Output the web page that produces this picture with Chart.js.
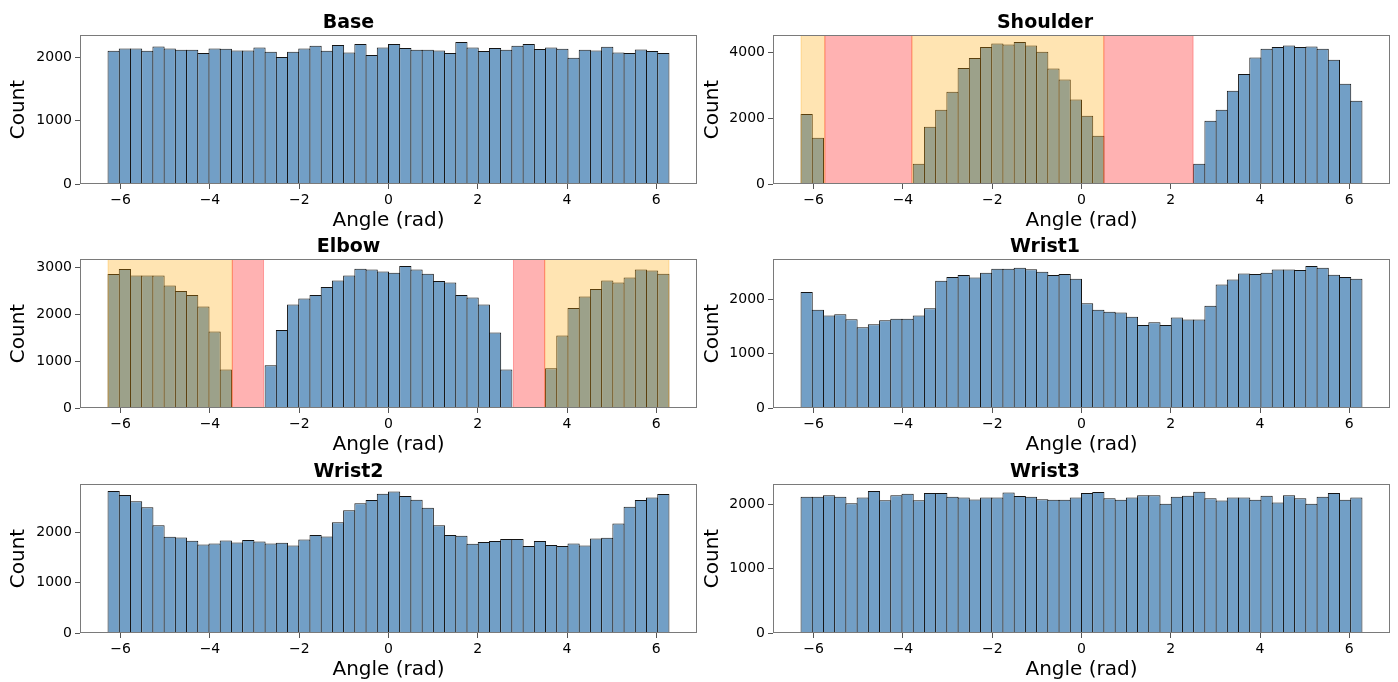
<!DOCTYPE html>
<html>
<head>
<meta charset="utf-8">
<script src="https://cdn.jsdelivr.net/npm/chart.js@4.4.1/dist/chart.umd.min.js"></script>
<style>
  html, body { margin: 0; padding: 0; background: #ffffff; }
  #grid { position: relative; width: 1398px; height: 682px; overflow: hidden; }
  .panel { position: absolute; }
</style>
</head>
<body>
<div id="grid"></div>
<script>
// Histogram bins: 50 equal bins spanning one full turn either side of zero
const binCount = 50;
const angleMin = -2 * Math.PI;
const angleMax = 2 * Math.PI;
const xTickValues = [-6, -4, -2, 0, 2, 4, 6];

// Counts per bin for each joint
const baseCounts = [2100, 2137, 2137, 2100, 2168, 2137, 2116, 2116, 2063, 2137,
                    2131, 2105, 2105, 2152, 2084, 2000, 2084, 2137, 2179, 2100,
                    2189, 2074, 2205, 2032, 2152, 2205, 2142, 2116, 2116, 2105,
                    2063, 2236, 2152, 2095, 2142, 2116, 2179, 2205, 2126, 2152,
                    2131, 1990, 2116, 2105, 2163, 2074, 2063, 2121, 2095, 2063];
const shoulderCounts = [2127, 1408, 0, 0, 0, 0, 0, 0, 0, 0,
                        618, 1742, 2259, 2806, 3525, 3829, 4163, 4275, 4244, 4315,
                        4214, 4022, 3515, 3181, 2573, 2077, 1469, 0, 0, 0,
                        0, 0, 0, 0, 0, 618, 1925, 2259, 2836, 3343,
                        3849, 4113, 4163, 4214, 4163, 4184, 4113, 3778, 3049, 2532];
const elbowCounts = [2857, 2964, 2829, 2829, 2829, 2615, 2494, 2409, 2168, 1635,
                     824, 0, 0, 0, 910, 1663, 2210, 2338, 2409, 2580,
                     2722, 2829, 2971, 2957, 2914, 2885, 3028, 2957, 2864, 2708,
                     2679, 2409, 2360, 2210, 1613, 824, 0, 0, 0, 846,
                     1549, 2132, 2381, 2537, 2722, 2679, 2786, 2957, 2935, 2864];
const wrist1Counts = [2141, 1816, 1706, 1730, 1638, 1491, 1546, 1620, 1650, 1650,
                      1706, 1840, 2350, 2417, 2454, 2411, 2497, 2571, 2571, 2589,
                      2564, 2515, 2454, 2472, 2387, 1933, 1816, 1779, 1761, 1687,
                      1534, 1583, 1534, 1669, 1632, 1632, 1890, 2282, 2374, 2485,
                      2472, 2497, 2558, 2558, 2546, 2620, 2589, 2460, 2417, 2387];
const wrist2Counts = [2829, 2749, 2629, 2508, 2147, 1920, 1906, 1839, 1766, 1786,
                      1846, 1806, 1853, 1826, 1786, 1799, 1746, 1866, 1953, 1926,
                      2207, 2448, 2589, 2649, 2776, 2823, 2729, 2656, 2495, 2147,
                      1953, 1940, 1779, 1813, 1833, 1873, 1873, 1732, 1833, 1753,
                      1732, 1786, 1746, 1886, 1900, 2181, 2515, 2649, 2702, 2769];
const wrist3Counts = [2120, 2120, 2146, 2120, 2021, 2110, 2209, 2068, 2146, 2167,
                      2068, 2178, 2178, 2120, 2110, 2078, 2110, 2110, 2188, 2131,
                      2120, 2084, 2073, 2073, 2110, 2178, 2193, 2099, 2073, 2110,
                      2146, 2146, 2011, 2120, 2136, 2198, 2099, 2063, 2110, 2110,
                      2073, 2136, 2031, 2146, 2099, 2011, 2120, 2178, 2073, 2110];

// Y tick values per joint
const baseYTicks = [0, 1000, 2000];
const shoulderYTicks = [0, 2000, 4000];
const elbowYTicks = [0, 1000, 2000, 3000];
const wrist1YTicks = [0, 1000, 2000];
const wrist2YTicks = [0, 1000, 2000];
const wrist3YTicks = [0, 1000, 2000];

// Shaded angle ranges (radians): warning zones and forbidden zones
const shoulderWarnZones = [[-2 * Math.PI, -5.75], [-3.8, 0.5]];
const shoulderBlockZones = [[-5.75, -3.8], [0.5, 2.5]];
const elbowWarnZones = [[-2 * Math.PI, -3.5], [3.5, 2 * Math.PI]];
const elbowBlockZones = [[-3.5, -2.8], [2.8, 3.5]];

const joints = [
  { name: 'Base',     counts: baseCounts,     yTicks: baseYTicks,     warn: [], block: [] },
  { name: 'Shoulder', counts: shoulderCounts, yTicks: shoulderYTicks, warn: shoulderWarnZones, block: shoulderBlockZones },
  { name: 'Elbow',    counts: elbowCounts,    yTicks: elbowYTicks,    warn: elbowWarnZones,    block: elbowBlockZones },
  { name: 'Wrist1',   counts: wrist1Counts,   yTicks: wrist1YTicks,   warn: [], block: [] },
  { name: 'Wrist2',   counts: wrist2Counts,   yTicks: wrist2YTicks,   warn: [], block: [] },
  { name: 'Wrist3',   counts: wrist3Counts,   yTicks: wrist3YTicks,   warn: [], block: [] }
];

// Panel geometry
const columns = [
  { left: 0,   width: 700, axisW: 80, padRight: 3, labelPad: 6.5 },
  { left: 700, width: 698, axisW: 73, padRight: 8, labelPad: 1 }
];
const rowTops = [0, 224, 449];
const panelH = 233;
const xAxisH = 49;

const WARN_COLOR = 'rgba(255,165,0,0.3)';
const BLOCK_COLOR = 'rgba(255,0,0,0.3)';
const BAR_FILL = 'rgb(114,159,198)';
const BAR_EDGE = '#141414';
const FRAME_COLOR = '#7a7a7a';
const TICK_COLOR = '#555555';

Chart.defaults.font.family = "'DejaVu Sans', sans-serif";
Chart.defaults.color = '#000000';

const binWidth = (angleMax - angleMin) / binCount;
const binCenters = [];
for (let i = 0; i < binCount; i++) binCenters.push(angleMin + (i + 0.5) * binWidth);
const xPad = 0.05 * (angleMax - angleMin);
const xMin = angleMin - xPad;
const xMax = angleMax + xPad;

const fmtTick = v => (v < 0 ? '\u2212' + Math.abs(v) : String(v));

// Shaded zones drawn over the bars, then the axes frame on top
const zonesAndFrame = {
  id: 'zonesAndFrame',
  afterDatasetsDraw(chart, args, opts) {
    const { ctx, chartArea: a, scales: { x } } = chart;
    ctx.save();
    ctx.beginPath();
    ctx.rect(a.left, a.top, a.right - a.left, a.bottom - a.top);
    ctx.clip();
    (opts.zones || []).forEach(z => {
      const x0 = x.getPixelForValue(z.from);
      const x1 = x.getPixelForValue(z.to);
      ctx.fillStyle = z.color;
      ctx.fillRect(x0, a.top, x1 - x0, a.bottom - a.top);
      ctx.strokeStyle = z.color;
      ctx.lineWidth = 1;
      ctx.strokeRect(x0, a.top, x1 - x0, a.bottom - a.top);
    });
    ctx.restore();
    ctx.save();
    ctx.strokeStyle = FRAME_COLOR;
    ctx.lineWidth = 1;
    const l = Math.round(a.left) + 0.5, t = Math.round(a.top) + 0.5;
    const r = Math.round(a.right) - 0.5, b = Math.round(a.bottom) - 0.5;
    ctx.strokeRect(l, t, r - l, b - t);
    ctx.restore();
  }
};

const grid = document.getElementById('grid');

joints.forEach((j, idx) => {
  const col = columns[idx % 2];
  const top = rowTops[Math.floor(idx / 2)];
  const holder = document.createElement('div');
  holder.className = 'panel';
  holder.style.left = col.left + 'px';
  holder.style.top = top + 'px';
  holder.style.width = col.width + 'px';
  holder.style.height = panelH + 'px';
  const canvas = document.createElement('canvas');
  canvas.width = col.width;
  canvas.height = panelH;
  holder.appendChild(canvas);
  grid.appendChild(holder);

  const areaW = col.width - col.axisW - col.padRight;
  const barPx = binWidth * areaW / (xMax - xMin) + 1;

  const zones = [];
  j.warn.forEach(z => zones.push({ from: z[0], to: z[1], color: WARN_COLOR }));
  j.block.forEach(z => zones.push({ from: z[0], to: z[1], color: BLOCK_COLOR }));

  new Chart(canvas, {
    type: 'bar',
    data: {
      datasets: [{
        label: j.name,
        data: binCenters.map((c, i) => ({ x: c, y: j.counts[i] })),
        backgroundColor: BAR_FILL,
        borderColor: BAR_EDGE,
        borderWidth: { top: 1, left: 1, right: 1, bottom: 0 },
        borderSkipped: false,
        barThickness: barPx,
        inflateAmount: 0,
        grouped: false
      }]
    },
    options: {
      responsive: false,
      animation: false,
      devicePixelRatio: 1,
      layout: { padding: { left: 0, right: col.padRight, top: 0, bottom: 0 } },
      plugins: {
        legend: { display: false },
        tooltip: { enabled: false },
        title: {
          display: true,
          text: j.name,
          color: '#000000',
          font: { size: 19, weight: 'bold', lineHeight: 1.2 },
          padding: { top: 11.8, bottom: 0.4 }
        },
        zonesAndFrame: { zones }
      },
      scales: {
        x: {
          type: 'linear',
          min: xMin,
          max: xMax,
          offset: false,
          afterFit: s => { s.height = xAxisH; },
          afterBuildTicks: s => { s.ticks = xTickValues.map(v => ({ value: v })); },
          ticks: {
            autoSkip: false,
            maxRotation: 0,
            padding: 3,
            color: '#000000',
            font: { size: 14 },
            callback: v => fmtTick(v)
          },
          grid: {
            display: true,
            offset: false,
            drawOnChartArea: false,
            drawTicks: true,
            tickLength: 5,
            tickColor: TICK_COLOR,
            tickWidth: 1
          },
          border: { display: false },
          title: {
            display: true,
            text: 'Angle (rad)',
            color: '#000000',
            font: { size: 20, lineHeight: 1.2 },
            padding: { top: 0, bottom: 0 }
          }
        },
        y: {
          type: 'linear',
          min: 0,
          max: Math.max(...j.counts) * 1.05,
          afterFit: s => { s.width = col.axisW; },
          afterBuildTicks: s => { s.ticks = j.yTicks.map(v => ({ value: v })); },
          ticks: {
            autoSkip: false,
            padding: 3,
            color: '#000000',
            font: { size: 14 },
            callback: v => fmtTick(v)
          },
          grid: {
            display: true,
            drawOnChartArea: false,
            drawTicks: true,
            tickLength: 5,
            tickColor: TICK_COLOR,
            tickWidth: 1
          },
          border: { display: false },
          title: {
            display: true,
            text: 'Count',
            color: '#000000',
            font: { size: 20, lineHeight: 1.2 },
            padding: { top: col.labelPad, bottom: 0 }
          }
        }
      }
    },
    plugins: [zonesAndFrame]
  });
});
</script>
</body>
</html>
